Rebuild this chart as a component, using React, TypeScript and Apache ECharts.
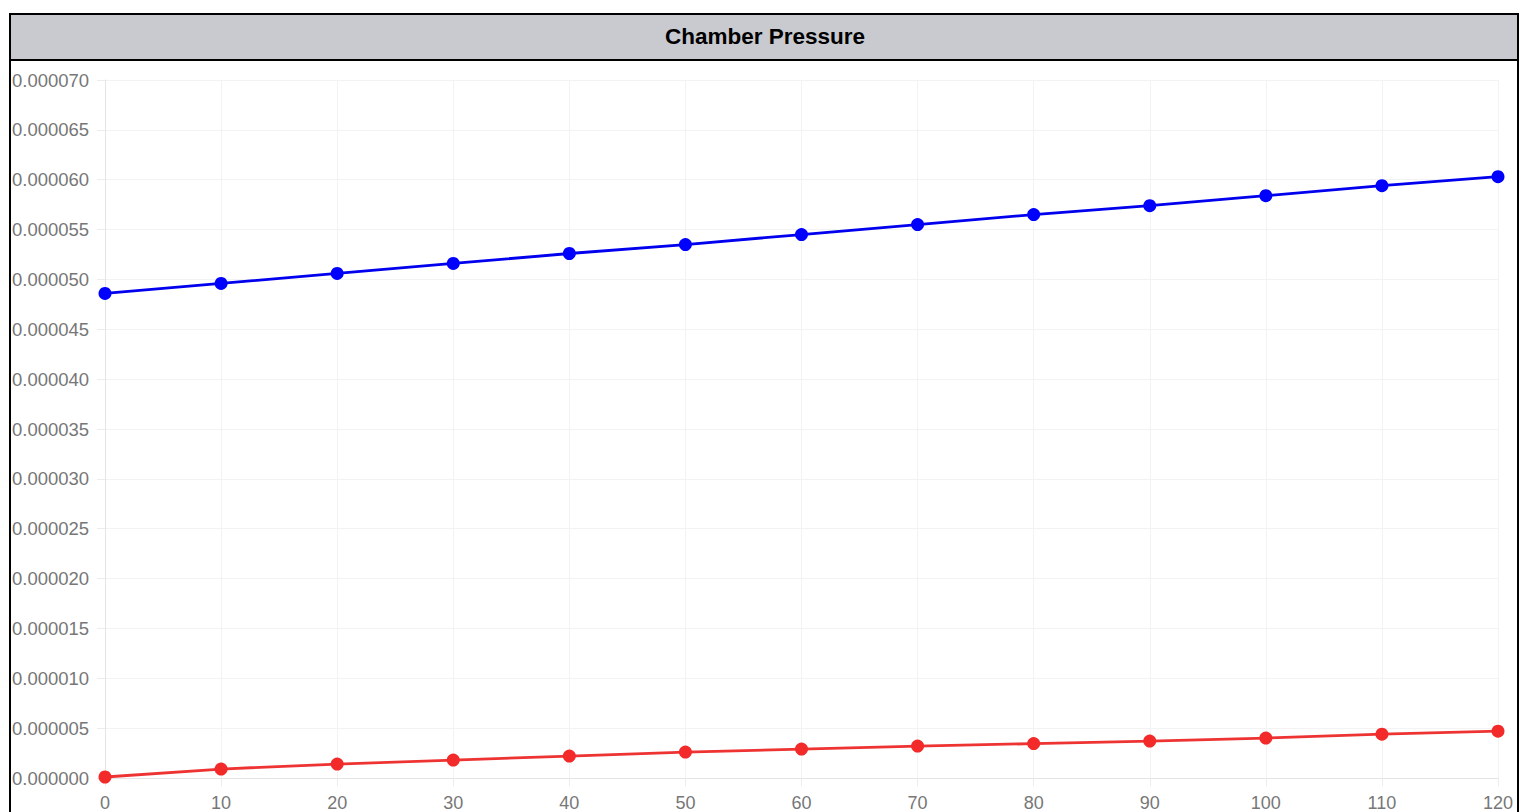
import React, { useEffect, useRef } from "react";
import * as echarts from "echarts";

const xValues = [0, 10, 20, 30, 40, 50, 60, 70, 80, 90, 100, 110, 120];
const blueSeries = [4.86e-5, 4.96e-5, 5.06e-5, 5.16e-5, 5.26e-5, 5.35e-5, 5.45e-5, 5.55e-5, 5.65e-5, 5.74e-5, 5.84e-5, 5.94e-5, 6.03e-5];
const redSeries = [1e-7, 9e-7, 1.4e-6, 1.8e-6, 2.2e-6, 2.6e-6, 2.9e-6, 3.2e-6, 3.45e-6, 3.7e-6, 4.0e-6, 4.4e-6, 4.7e-6];
const titleText = "Chamber Pressure";

export default function App() {
  const ref = useRef<HTMLDivElement>(null);
  useEffect(() => {
    if (!ref.current) return;
    const chart = echarts.init(ref.current, null, { renderer: "svg" });
    const font = "Arial, 'Liberation Sans', Helvetica, sans-serif";
    chart.setOption({
      animation: false,
      backgroundColor: "#ffffff",
      title: {
        text: titleText,
        left: 765,
        top: 25,
        padding: 0,
        textAlign: "center",
        textStyle: { fontSize: 22.5, fontWeight: "bold", color: "#000", fontFamily: font },
      },
      graphic: [
        { type: "rect", z: -1, shape: { x: 10, y: 14, width: 1508, height: 46 }, style: { fill: "#c9cacf", stroke: "#000", lineWidth: 2 } },
        { type: "line", shape: { x1: 10, y1: 14, x2: 10, y2: 812 }, style: { stroke: "#000", lineWidth: 2 } },
        { type: "line", shape: { x1: 1518, y1: 14, x2: 1518, y2: 812 }, style: { stroke: "#000", lineWidth: 2 } },
      ],
      grid: { left: 105, right: 24, top: 80, bottom: 33, containLabel: false },
      xAxis: {
        type: "value",
        min: 0,
        max: 120,
        interval: 10,
        axisLine: { show: true, lineStyle: { color: "#e4e4e4", width: 1 } },
        axisTick: { show: true, length: 8, lineStyle: { color: "#ececec" } },
        splitLine: { show: true, lineStyle: { color: "#f3f3f3", width: 1 } },
        axisLabel: { color: "#777", fontSize: 18, fontFamily: font, margin: 16 },
      },
      yAxis: {
        type: "value",
        min: 0,
        max: 0.00007,
        interval: 0.000005,
        axisLine: { show: true, lineStyle: { color: "#e4e4e4", width: 1 } },
        axisTick: { show: true, length: 8, lineStyle: { color: "#ececec" } },
        splitLine: { show: true, lineStyle: { color: "#f3f3f3", width: 1 } },
        axisLabel: {
          color: "#777",
          fontSize: 18.5,
          fontFamily: font,
          align: "left",
          margin: 93,
          formatter: (v: number) => v.toFixed(6),
        },
      },
      series: [
        {
          type: "line",
          data: xValues.map((x, i) => [x, blueSeries[i]]),
          symbol: "circle",
          symbolSize: 13,
          lineStyle: { color: "#0000ee", width: 2.8 },
          itemStyle: { color: "#0000ff" },
        },
        {
          type: "line",
          data: xValues.map((x, i) => [x, redSeries[i]]),
          symbol: "circle",
          symbolSize: 13,
          lineStyle: { color: "#ee3333", width: 2.8 },
          itemStyle: { color: "#f22a2a" },
        },
      ],
    });
    return () => chart.dispose();
  }, []);
  return (
    <div
      ref={ref}
      style={{ position: "absolute", left: 0, top: 0, width: 1522, height: 812 }}
    />
  );
}
